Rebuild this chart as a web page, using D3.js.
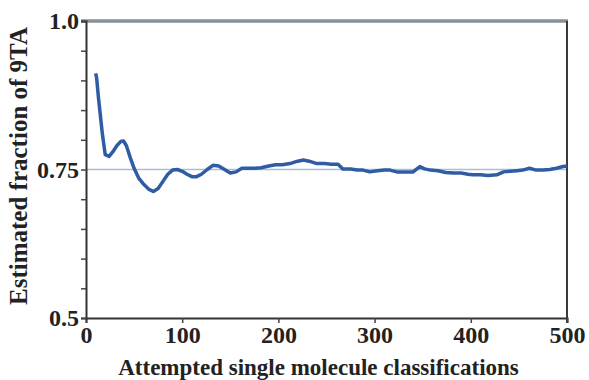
<!DOCTYPE html>
<html>
<head>
<meta charset="utf-8">
<script src="https://cdn.jsdelivr.net/npm/d3@7"></script>
<style>
  body { margin: 0; background: #fff; }
  text { font-family: "Liberation Serif", "DejaVu Serif", serif; font-weight: bold; fill: #222; }
</style>
</head>
<body>
<svg id="chart" width="589" height="380"></svg>
<script>
// data (running estimate)
var attempts = [10, 11, 13, 15, 17, 20, 24, 28, 32, 36, 39, 42, 46, 50, 55, 60, 65, 70, 75, 80,
                85, 90, 95, 100, 105, 110, 115, 120, 126, 132, 138, 144, 150, 156, 162, 168, 175,
                182, 190, 197, 204, 212, 220, 226, 232, 240, 248, 255, 262, 267, 275, 282, 288,
                295, 303, 310, 316, 323, 330, 340, 347, 352, 358, 366, 374, 382, 390, 397, 402,
                410, 418, 427, 434, 441, 448, 454, 461, 468, 475, 482, 489, 496, 500];
var fraction = [0.912, 0.905, 0.87, 0.84, 0.81, 0.775, 0.772, 0.780, 0.790, 0.797, 0.798, 0.790,
                0.770, 0.752, 0.735, 0.725, 0.717, 0.713, 0.718, 0.730, 0.742, 0.749, 0.750, 0.747,
                0.742, 0.738, 0.738, 0.742, 0.750, 0.757, 0.756, 0.750, 0.744, 0.746, 0.752, 0.752,
                0.752, 0.753, 0.756, 0.758, 0.758, 0.760, 0.764, 0.766, 0.764, 0.760, 0.760, 0.759,
                0.759, 0.751, 0.751, 0.749, 0.749, 0.746, 0.748, 0.749, 0.749, 0.746, 0.746, 0.746,
                0.755, 0.751, 0.749, 0.748, 0.745, 0.744, 0.744, 0.742, 0.741, 0.741, 0.740, 0.741,
                0.746, 0.747, 0.748, 0.749, 0.752, 0.749, 0.749, 0.750, 0.752, 0.755, 0.756];
var trueFraction = 0.75;
var xTicks = [0, 100, 200, 300, 400, 500];
var yLabelTicks = [0.5, 0.75, 1.0];
var yMinorTicks = d3.range(0.5, 1.0001, 0.05);

var margin = { top: 21, right: 22, bottom: 62, left: 86 },
    width = 589 - margin.left - margin.right,
    height = 380 - margin.top - margin.bottom;

var svg = d3.select("#chart");
var g = svg.append("g").attr("transform", "translate(" + margin.left + "," + margin.top + ")");

var x = d3.scaleLinear().domain([0, 500]).range([0, width]);
var y = d3.scaleLinear().domain([0.5, 1.0]).range([height, 0]);

// reference line at the true fraction
g.append("line")
    .attr("x1", x(0)).attr("x2", x(500))
    .attr("y1", y(trueFraction)).attr("y2", y(trueFraction))
    .attr("stroke", "#a7c0da")
    .attr("stroke-width", 1.5);

// frame: thick gray top, dark right
g.append("line")
    .attr("x1", -5).attr("x2", width + 1)
    .attr("y1", 0).attr("y2", 0)
    .attr("stroke", "#86909a")
    .attr("stroke-width", 3.5);
g.append("line")
    .attr("x1", width).attr("x2", width)
    .attr("y1", 0).attr("y2", height + 5)
    .attr("stroke", "#3a3a3a")
    .attr("stroke-width", 2);

// axes
var xAxis = d3.axisBottom(x).tickValues(xTicks).tickSize(5).tickFormat(d3.format("d"));
var yAxis = d3.axisLeft(y).tickValues(yMinorTicks).tickSize(5)
    .tickFormat(function (d) {
        var hit = yLabelTicks.find(function (v) { return Math.abs(v - d) < 1e-6; });
        if (hit === undefined) return "";
        return hit === 1 ? "1.0" : String(hit);
    });

var gx = g.append("g")
    .attr("transform", "translate(0," + height + ")")
    .call(xAxis);
gx.selectAll(".tick line").attr("stroke", "#444").attr("stroke-width", 1.5);
gx.select(".domain").attr("stroke", "#333").attr("stroke-width", 2);
gx.selectAll("text").style("font-size", "24px").attr("y", 3).attr("dy", "0.9em").attr("fill", "#222");

var gy = g.append("g").call(yAxis);
gy.selectAll(".tick line").attr("stroke", "#444").attr("stroke-width", 1.5);
gy.select(".domain").attr("stroke", "#333").attr("stroke-width", 2);
gy.selectAll("text").style("font-size", "24px").attr("x", -7).attr("fill", "#222");

// estimate line
var line = d3.line()
    .x(function (d) { return x(d[0]); })
    .y(function (d) { return y(d[1]); });

g.append("path")
    .datum(d3.zip(attempts, fraction))
    .attr("fill", "none")
    .attr("stroke", "#2f5ca3")
    .attr("stroke-width", 3.5)
    .attr("stroke-linejoin", "round")
    .attr("d", line);

// axis titles
svg.append("text")
    .attr("x", margin.left + width / 2 - 8)
    .attr("y", 375)
    .attr("text-anchor", "middle")
    .style("font-size", "23px")
    .text("Attempted single molecule classifications");

svg.append("text")
    .attr("transform", "translate(27,166) rotate(-90)")
    .attr("text-anchor", "middle")
    .style("font-size", "25px")
    .text("Estimated fraction of 9TA");
</script>
</body>
</html>
